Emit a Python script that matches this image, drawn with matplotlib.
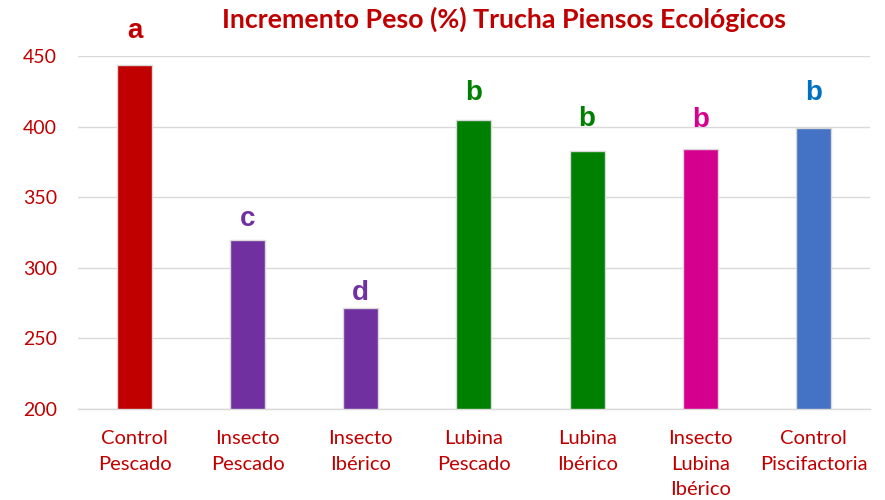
import matplotlib
matplotlib.use("Agg")
import matplotlib.pyplot as plt

categories = ["Control\nPescado", "Insecto\nPescado", "Insecto\nIbérico", "Lubina\nPescado",
              "Lubina\nIbérico", "Insecto\nLubina\nIbérico", "Control\nPiscifactoria"]
values = [443.5, 319.7, 271.5, 405.0, 382.7, 384.0, 398.8]
letters = ["a", "c", "d", "b", "b", "b", "b"]
colors = ["#C00000", "#7030A0", "#7030A0", "#008000", "#008000", "#D6008F", "#4472C4"]
letter_colors = ["#C00000", "#7030A0", "#7030A0", "#008000", "#008000", "#D6008F", "#0070C0"]
title = "Incremento Peso (%) Trucha Piensos Ecológicos"
yticks = [200, 250, 300, 350, 400, 450]

# label offsets above bars (points), style only
letter_offsets = [15, 6, 1.5, 10, 14, 11.5, 16]

red = "#C00000"
fig = plt.figure(figsize=(8.85, 5), dpi=100)
ax = fig.add_axes([0.088, 0.182, 0.895, 0.706])
x = list(range(len(categories)))
ax.bar(x, [v - 200 for v in values], bottom=200, width=0.31, color=colors,
       edgecolor="#D9D9D9", linewidth=1.0, zorder=3)
ax.set_xlim(-0.5, len(categories) - 0.5)
ax.set_ylim(200, 450)
ax.set_yticks(yticks)
ax.set_yticklabels([str(t) for t in yticks], color=red, fontsize=14, family="Lato")
ax.set_xticks(x)
ax.set_xticklabels(categories, color=red, fontsize=14.5, family="Lato", linespacing=1.62)
ax.tick_params(axis="y", length=0, pad=15)
ax.tick_params(axis="x", length=0, pad=15)
ax.grid(axis="y", color="#D9D9D9", linewidth=1.0, zorder=0)
for s in ["top", "right", "left"]:
    ax.spines[s].set_visible(False)
ax.spines["bottom"].set_color("#D9D9D9")
ax.spines["bottom"].set_linewidth(1.0)
for xi, v, l, c, off in zip(x, values, letters, letter_colors, letter_offsets):
    ax.annotate(l, (xi, v), xytext=(0, off), textcoords="offset points", ha="center",
                va="bottom", fontsize=20, fontweight="bold", color=c, family="Liberation Sans",
                annotation_clip=False)
fig.text(0.570, 0.962, title, ha="center", va="center", fontsize=19.3, fontweight="bold",
         color=red, family="Lato")
fig.savefig("out.png", dpi=100, facecolor="white")
